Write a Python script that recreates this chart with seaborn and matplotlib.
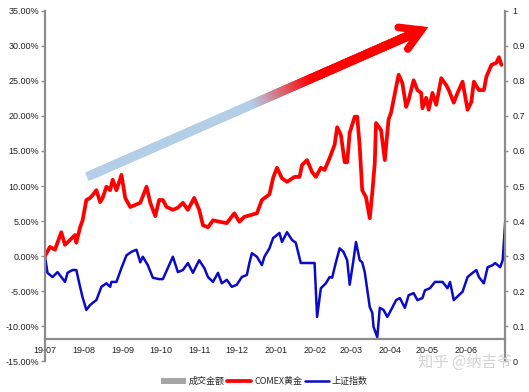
import numpy as np
import pandas as pd
import matplotlib
matplotlib.use('Agg')
import matplotlib.pyplot as plt
import matplotlib.dates as mdates
from matplotlib.collections import LineCollection
from matplotlib.patches import Patch
from matplotlib.lines import Line2D
from matplotlib.colors import to_rgb
import seaborn as sns

# COMEX gold, cumulative change (%) since 2019-07-01
gold_dates = ['2019-07-01', '2019-07-05', '2019-07-09', '2019-07-14', '2019-07-17', '2019-07-21',
              '2019-07-25', '2019-07-26', '2019-07-29', '2019-07-31', '2019-08-03', '2019-08-06',
              '2019-08-08', '2019-08-11', '2019-08-14', '2019-08-16', '2019-08-19', '2019-08-22',
              '2019-08-24', '2019-08-27', '2019-08-31', '2019-09-03', '2019-09-07', '2019-09-11',
              '2019-09-15', '2019-09-20', '2019-09-23', '2019-09-27', '2019-09-30', '2019-10-03',
              '2019-10-06', '2019-10-11', '2019-10-15', '2019-10-19', '2019-10-23', '2019-10-28',
              '2019-11-01', '2019-11-04', '2019-11-08', '2019-11-12', '2019-11-17', '2019-11-23',
              '2019-11-29', '2019-12-03', '2019-12-07', '2019-12-13', '2019-12-17', '2019-12-21',
              '2019-12-27', '2019-12-30', '2020-01-02', '2020-01-06', '2020-01-10', '2020-01-16',
              '2020-01-20', '2020-01-22', '2020-01-26', '2020-01-30', '2020-02-02', '2020-02-06',
              '2020-02-09', '2020-02-13', '2020-02-17', '2020-02-19', '2020-02-22', '2020-02-25',
              '2020-02-27', '2020-02-29', '2020-03-04', '2020-03-06', '2020-03-08', '2020-03-10',
              '2020-03-13', '2020-03-16', '2020-03-18', '2020-03-20', '2020-03-21', '2020-03-25',
              '2020-03-28', '2020-03-31', '2020-04-02', '2020-04-06', '2020-04-08', '2020-04-11',
              '2020-04-14', '2020-04-16', '2020-04-20', '2020-04-23', '2020-04-26', '2020-04-27',
              '2020-04-30', '2020-05-02', '2020-05-05', '2020-05-08', '2020-05-12', '2020-05-16',
              '2020-05-18', '2020-05-22', '2020-05-25', '2020-05-29', '2020-06-02', '2020-06-05',
              '2020-06-07', '2020-06-11', '2020-06-15', '2020-06-17', '2020-06-21', '2020-06-25',
              '2020-06-27', '2020-06-29']
gold_pct = [0.0, 1.3, 0.9, 3.4, 1.6, 2.3,
            3.0, 1.9, 4.1, 5.1, 8.0, 8.3,
            8.7, 9.4, 7.7, 8.3, 9.9, 9.4,
            10.9, 9.4, 11.6, 8.3, 7.0, 7.3,
            7.6, 9.9, 7.6, 5.7, 8.0, 8.0,
            7.0, 6.6, 6.9, 7.6, 6.6, 8.3,
            6.6, 4.4, 4.1, 5.1, 4.9, 4.7,
            6.1, 4.9, 5.6, 5.9, 6.1, 8.0,
            8.8, 11.2, 12.6, 11.1, 10.6, 11.3,
            11.3, 13.0, 13.7, 12.0, 11.3, 12.6,
            12.3, 14.0, 15.9, 18.4, 17.3, 13.4,
            13.4, 17.6, 19.9, 19.9, 15.6, 9.4,
            8.4, 5.4, 9.0, 13.3, 19.0, 18.0,
            13.7, 19.5, 20.5, 24.1, 25.9, 24.7,
            21.3, 22.3, 25.1, 23.7, 23.3, 21.1,
            22.6, 20.9, 23.3, 21.6, 25.4, 24.4,
            23.7, 21.9, 23.3, 24.9, 20.9, 22.0,
            24.9, 23.7, 23.7, 25.6, 27.3, 27.6,
            28.4, 27.3]

# Shanghai Composite, cumulative change (%) since 2019-07-01
sh_dates = ['2019-07-01', '2019-07-03', '2019-07-07', '2019-07-11', '2019-07-14', '2019-07-17',
            '2019-07-19', '2019-07-23', '2019-07-26', '2019-07-29', '2019-07-31', '2019-08-03',
            '2019-08-06', '2019-08-08', '2019-08-11', '2019-08-15', '2019-08-19', '2019-08-22',
            '2019-08-23', '2019-08-27', '2019-08-31', '2019-09-04', '2019-09-08', '2019-09-12',
            '2019-09-15', '2019-09-17', '2019-09-21', '2019-09-25', '2019-09-30', '2019-10-03',
            '2019-10-07', '2019-10-11', '2019-10-15', '2019-10-19', '2019-10-23', '2019-10-27',
            '2019-10-30', '2019-11-01', '2019-11-05', '2019-11-08', '2019-11-12', '2019-11-16',
            '2019-11-19', '2019-11-23', '2019-11-27', '2019-12-01', '2019-12-05', '2019-12-09',
            '2019-12-11', '2019-12-13', '2019-12-17', '2019-12-21', '2019-12-23', '2019-12-27',
            '2019-12-30', '2019-12-31', '2020-01-04', '2020-01-06', '2020-01-10', '2020-01-14',
            '2020-01-17', '2020-01-21', '2020-02-01', '2020-02-03', '2020-02-06', '2020-02-10',
            '2020-02-13', '2020-02-15', '2020-02-18', '2020-02-21', '2020-02-24', '2020-02-27',
            '2020-02-29', '2020-03-03', '2020-03-05', '2020-03-08', '2020-03-10', '2020-03-12',
            '2020-03-16', '2020-03-18', '2020-03-19', '2020-03-22', '2020-03-24', '2020-03-27',
            '2020-03-30', '2020-04-02', '2020-04-06', '2020-04-09', '2020-04-13', '2020-04-16',
            '2020-04-20', '2020-04-23', '2020-04-27', '2020-04-29', '2020-05-03', '2020-05-07',
            '2020-05-13', '2020-05-17', '2020-05-19', '2020-05-22', '2020-05-26', '2020-05-29',
            '2020-06-02', '2020-06-06', '2020-06-09', '2020-06-11', '2020-06-15', '2020-06-18',
            '2020-06-22', '2020-06-24', '2020-06-28', '2020-06-30', '2020-07-02']
sh_pct = [0.0, -2.4, -3.0, -2.3, -3.0, -3.7,
          -2.4, -2.0, -2.0, -4.4, -5.9, -7.7,
          -7.0, -6.7, -6.3, -4.4, -3.9, -4.4,
          -3.7, -3.7, -1.7, 0.1, 0.6, 0.9,
          -0.9, -0.1, -1.3, -3.1, -3.3, -3.3,
          -1.7, -0.1, -2.3, -2.0, -1.0, -2.4,
          -1.3, -0.6, -1.7, -3.0, -3.7, -2.4,
          -3.9, -3.4, -4.4, -4.1, -3.0, -2.7,
          -1.0, 0.4, -0.1, -1.3, -0.1, 1.1,
          2.6, 2.7, 3.3, 2.0, 3.4, 2.3,
          1.9, -1.0, -1.0, -8.7, -4.6, -3.9,
          -3.0, -3.1, -0.9, 1.1, 0.6, -0.6,
          -4.1, -0.6, 2.0, -0.6, -0.9, -2.3,
          -7.3, -8.1, -10.1, -11.6, -7.4, -7.7,
          -8.7, -7.7, -6.3, -6.0, -7.4, -5.6,
          -5.3, -6.3, -6.0, -4.9, -4.6, -3.7,
          -3.7, -4.6, -3.7, -6.3, -5.6, -5.1,
          -3.0, -2.4, -2.0, -3.0, -3.9, -1.6,
          -1.3, -1.0, -1.6, -0.6, 4.9]

month_ticks = pd.date_range('2019-07-01', '2020-06-01', freq='MS')
left_ticks = [-15, -10, -5, 0, 5, 10, 15, 20, 25, 30, 35]
right_ticks = [0, 0.1, 0.2, 0.3, 0.4, 0.5, 0.6, 0.7, 0.8, 0.9, 1]
right_labels = ['0', '0.1', '0.2', '0.3', '0.4', '0.5', '0.6', '0.7', '0.8', '0.9', '1']

gold = pd.DataFrame({'date': pd.to_datetime(gold_dates), 'pct': gold_pct})
sh = pd.DataFrame({'date': pd.to_datetime(sh_dates), 'pct': sh_pct})

sns.set_style('white')
plt.rcParams['font.family'] = ['Liberation Sans', 'Noto Sans CJK SC', 'DejaVu Sans']

RED = '#ff0000'
BLUE = '#0a0ac8'
GREY = '#8c8c8c'

fig = plt.figure(figsize=(5.29, 3.92), dpi=100)
ax = fig.add_axes([0.085, 0.079, 0.87, 0.893])

sns.lineplot(data=sh, x='date', y='pct', ax=ax, color=BLUE, lw=1.8)
sns.lineplot(data=gold, x='date', y='pct', ax=ax, color=RED, lw=2.7)

ax.set_xlim(pd.Timestamp('2019-07-01'), pd.Timestamp('2020-07-02'))
ax.set_ylim(-15, 35)
ax.set_xlabel('')
ax.set_ylabel('')
ax.set_yticks(left_ticks)
ax.set_yticklabels([f'{v:.2f}%' for v in left_ticks])
ax.set_xticks(month_ticks)
ax.xaxis.set_major_formatter(mdates.DateFormatter('%y-%m'))

for s in ['top', 'right']:
    ax.spines[s].set_visible(False)
ax.spines['left'].set_color(GREY)
ax.spines['left'].set_linewidth(1.6)
ax.spines['bottom'].set_color(GREY)
ax.spines['bottom'].set_linewidth(1.6)
ax.spines['bottom'].set_position(('data', -11.9))
ax.tick_params(axis='y', labelsize=6.5, length=3, width=1, color=GREY, pad=1, labelcolor='#222222')
ax.tick_params(axis='x', labelsize=6.5, length=3, width=1, color=GREY, pad=1.5, labelcolor='#222222')
ax.set_facecolor('white')

ax2 = ax.twinx()
ax2.set_ylim(0, 1)
ax2.set_yticks(right_ticks)
ax2.set_yticklabels(right_labels)
for s in ['top', 'left', 'bottom']:
    ax2.spines[s].set_visible(False)
ax2.spines['right'].set_color(GREY)
ax2.spines['right'].set_linewidth(1.6)
ax2.tick_params(axis='y', labelsize=6.5, length=2, width=1, color=GREY, pad=3, labelcolor='#222222')

# gradient arrow (decoration, in axes fraction), overlapping pieces avoid seams
start = np.array([0.091, 0.526])
tip = np.array([0.833, 0.954])
n = 150
t = np.linspace(0, 0.96, n + 1)
pts = start + (tip - start) * t[:, None]
ends = np.minimum(np.arange(n) + 3, n)
segs = np.stack([pts[:-1], pts[ends]], axis=1)
c0 = np.array(to_rgb('#b3cfe7'))
c1 = np.array(to_rgb('#ff0000'))
tm = t[:-1] / 0.96
w = np.clip((tm - 0.5) / 0.18, 0, 1)[:, None]
cols = c0 * (1 - w) + c1 * w
lc = LineCollection(segs, colors=cols, linewidths=6.5, transform=ax.transAxes,
                    capstyle='butt', zorder=5)
ax.add_collection(lc)
ax.annotate('', xy=tip, xytext=start + (tip - start) * 0.9, xycoords='axes fraction',
            textcoords='axes fraction',
            arrowprops=dict(arrowstyle='->,head_length=1.45,head_width=0.85', lw=5.5,
                            color=RED, shrinkA=0, shrinkB=0, joinstyle='miter'),
            zorder=6)

handles = [Patch(facecolor='#a6a6a6', edgecolor='none'),
           Line2D([], [], color=RED, lw=2.7),
           Line2D([], [], color=BLUE, lw=1.8)]
labels = ['成交金额', 'COMEX黄金', '上证指数']
fig.legend(handles, labels, loc='center', bbox_to_anchor=(0.5, 0.027), ncol=3, frameon=False,
           prop={'family': ['Noto Sans CJK SC', 'DejaVu Sans'], 'size': 6.5},
           handlelength=2.7, handletextpad=0.3, columnspacing=0.3)

fig.text(0.79, 0.075, '知乎 @纳吉爷', fontsize=11, color='#cfcfcf', alpha=0.9,
         family=['Noto Sans CJK SC', 'DejaVu Sans'], va='center', ha='left')

fig.savefig('out.png', dpi=100, facecolor='white')
